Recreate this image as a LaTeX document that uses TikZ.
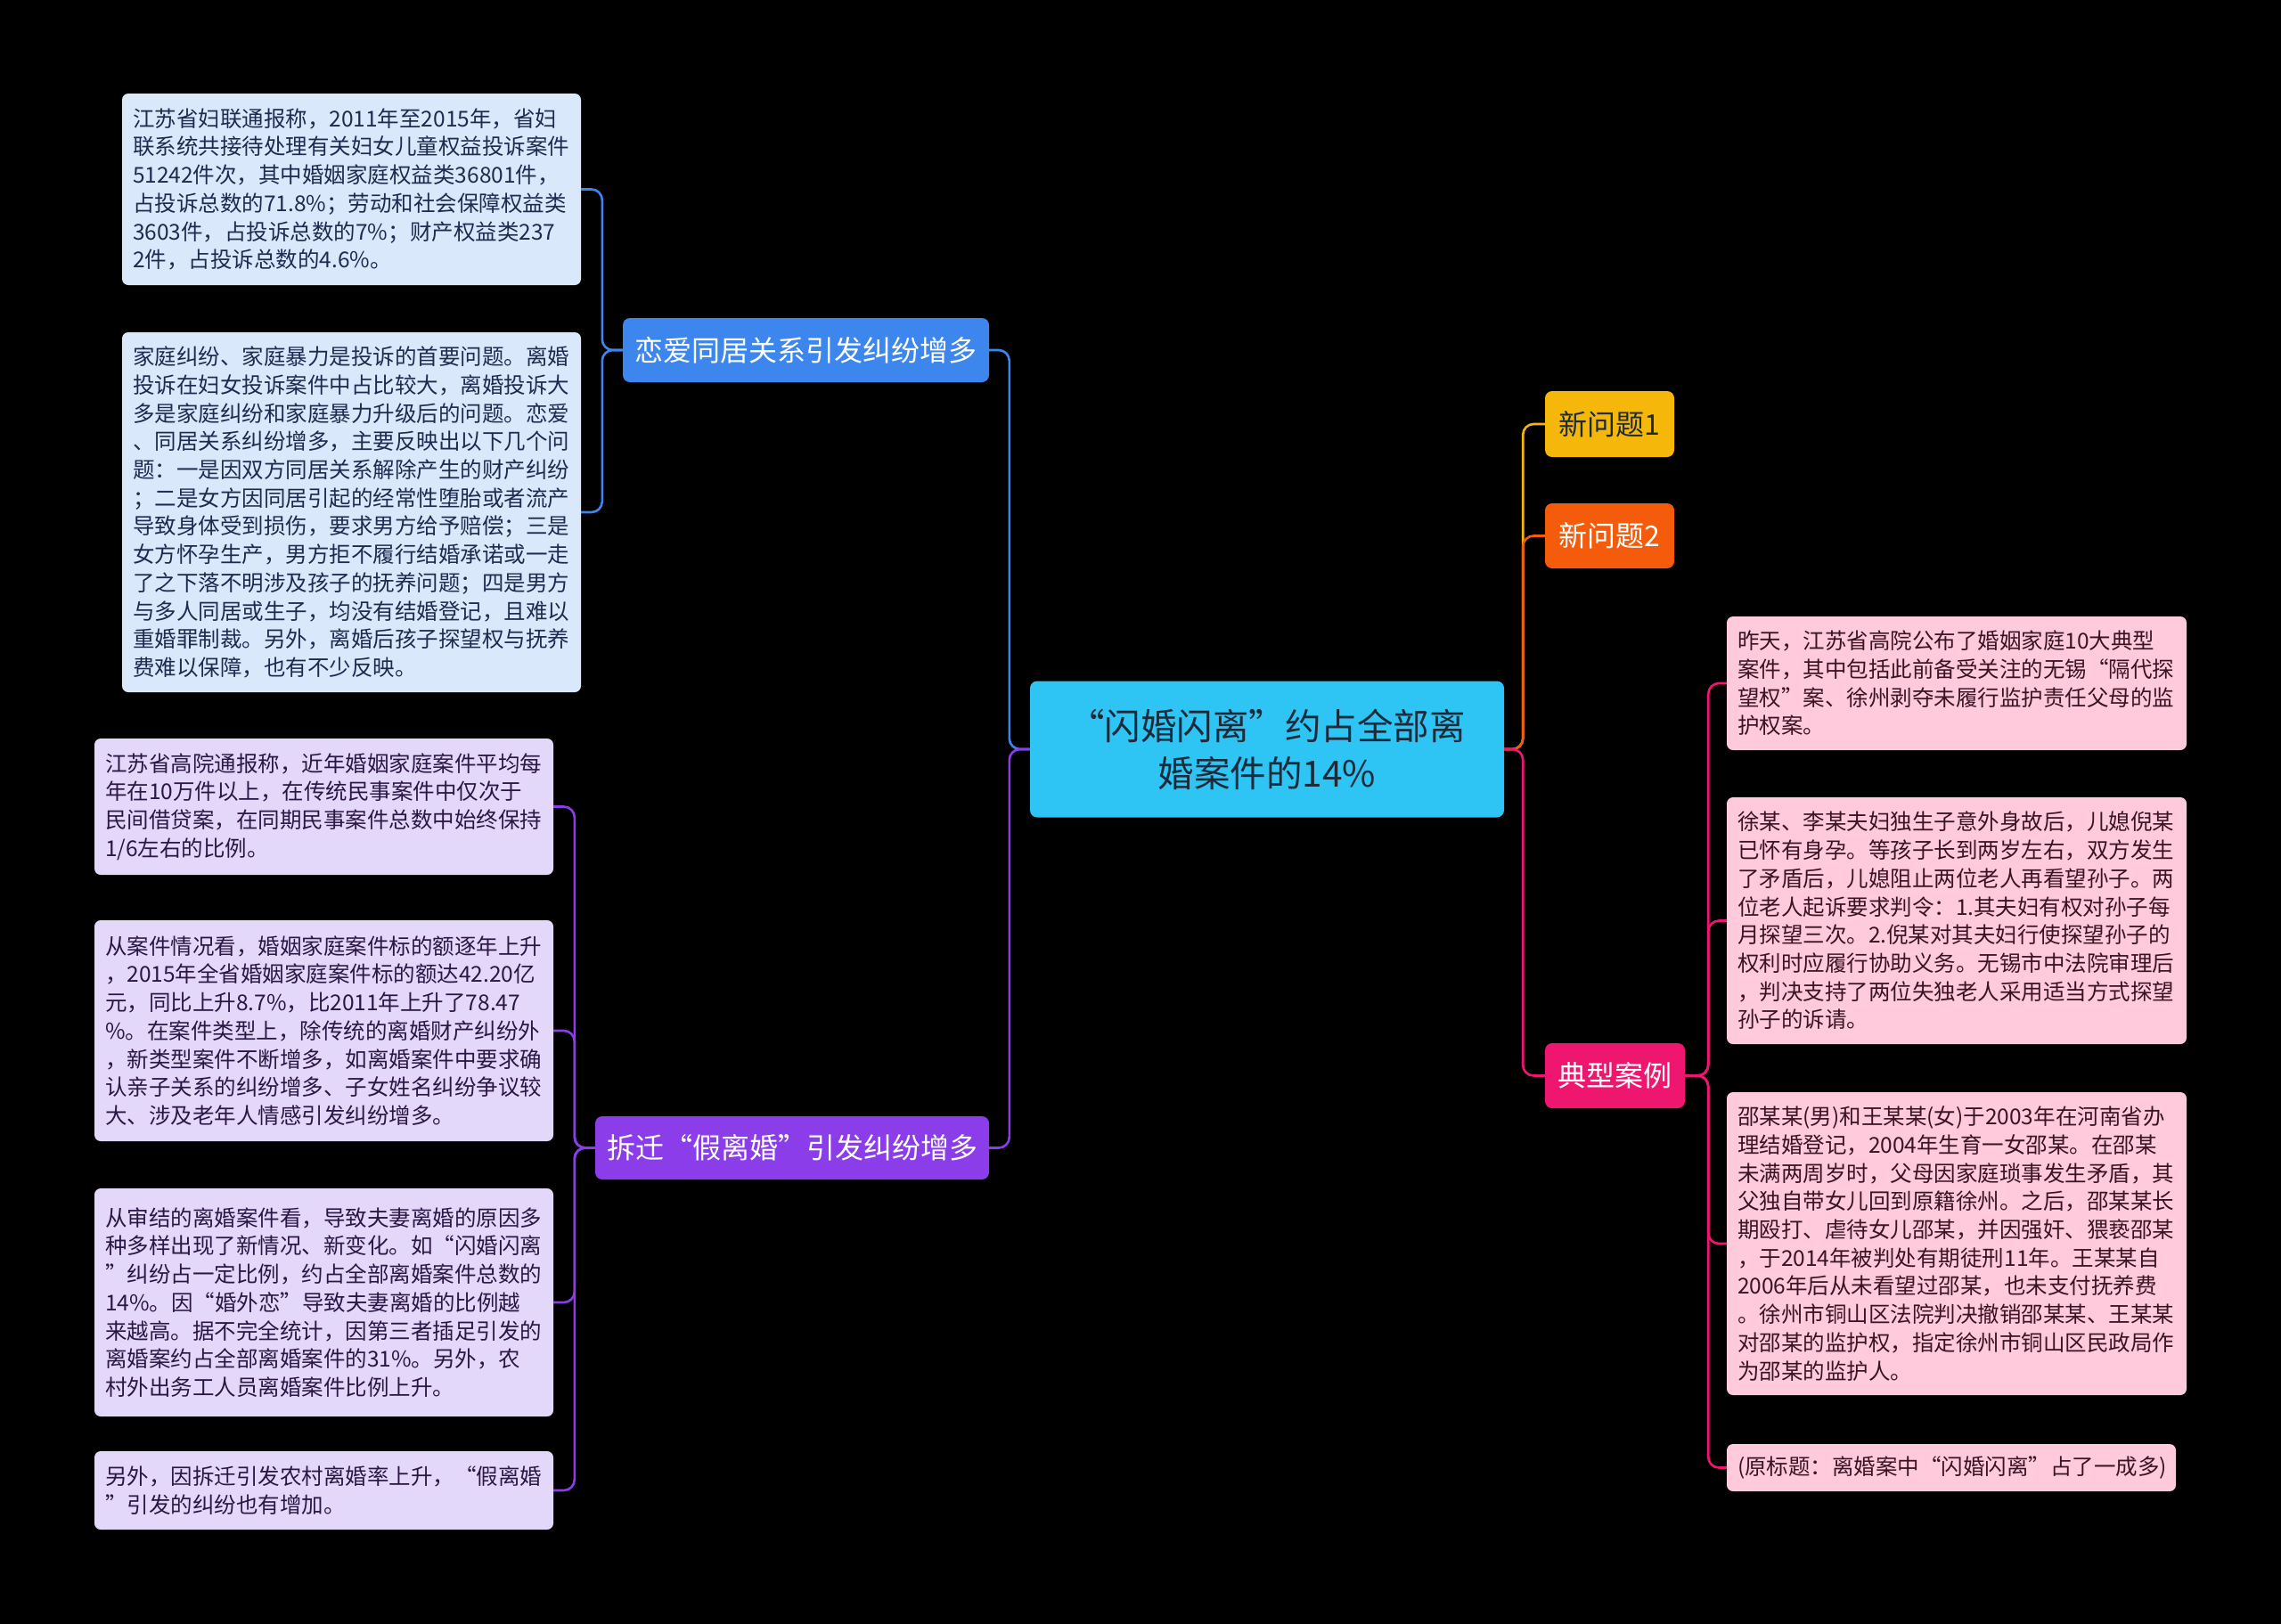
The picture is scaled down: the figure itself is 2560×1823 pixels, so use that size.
\documentclass[tikz,border=0pt]{standalone}
\usepackage{fontspec}
\setmainfont{Noto Sans CJK SC}
\begin{document}
\begin{tikzpicture}[x=1pt, y=-1pt, font=\fontsize{24.5}{31.7}\selectfont]
    % --- Colores ---
    \definecolor{fondo}{HTML}{000000}
    \definecolor{raiz}{HTML}{2EC4F4}
    \definecolor{textoraiz}{HTML}{1C2B3A}
    \definecolor{azul}{HTML}{3C86EE}
    \definecolor{morado}{HTML}{8A3DE8}
    \definecolor{amarillo}{HTML}{F5B70A}
    \definecolor{naranja}{HTML}{F45B0B}
    \definecolor{rosa}{HTML}{EF1670}
    \definecolor{hojaazul}{HTML}{DAE8FC}
    \definecolor{textoazul}{HTML}{1E2B4F}
    \definecolor{hojamorada}{HTML}{E4D8FA}
    \definecolor{textomorado}{HTML}{2B1745}
    \definecolor{hojarosa}{HTML}{FFCADC}
    \definecolor{textorosa}{HTML}{3A1424}

    % --- Estilos ---
    \tikzset{
        topic/.style={rounded corners=8pt, align=center, inner sep=0pt, font=\fontsize{32}{36}\selectfont},
        leaf/.style={rounded corners=7pt, align=left, inner xsep=12pt, inner ysep=0pt},
        link/.style={line width=2.6pt, rounded corners=12pt}
    }

    % --- Fondo ---
    \fill[fondo] (0,0) rectangle (2560,1823);
    \useasboundingbox (0,0) rectangle (2560,1823);

    % --- Tema central ---
    \node[topic, fill=raiz, text=textoraiz, minimum width=532pt, minimum height=153pt,
          font=\fontsize{40.5}{53}\selectfont] (root) at (1422,841)
        {“闪婚闪离”约占全部离\\婚案件的14\%};

    % --- Ramas ---
    \node[topic, fill=azul, text=white, minimum width=411pt, minimum height=72pt] (b1) at (904.5,393) {恋爱同居关系引发纠纷增多};
    \node[topic, fill=morado, text=white, minimum width=442pt, minimum height=71pt] (b2) at (889,1288.5) {拆迁“假离婚”引发纠纷增多};
    \node[topic, fill=amarillo, text=textoraiz, minimum width=145pt, minimum height=74pt] (n1) at (1806.5,476) {新问题1};
    \node[topic, fill=naranja, text=white, minimum width=145pt, minimum height=73pt] (n2) at (1806.5,601.5) {新问题2};
    \node[topic, fill=rosa, text=white, minimum width=157pt, minimum height=73pt] (caso) at (1812.5,1207.5) {典型案例};

    % --- Hojas: 恋爱同居 ---
    \node[leaf, fill=hojaazul, text=textoazul, text width=491pt, minimum height=215pt] (l1) at (394.5,212.5)
        {江苏省妇联通报称，2011年至2015年，省妇\\
         联系统共接待处理有关妇女儿童权益投诉案件\\
         51242件次，其中婚姻家庭权益类36801件，\\
         占投诉总数的71.8\%；劳动和社会保障权益类\\
         3603件，占投诉总数的7\%；财产权益类237\\
         2件，占投诉总数的4.6\%。};
    \node[leaf, fill=hojaazul, text=textoazul, text width=491pt, minimum height=404pt] (l2) at (394.5,575)
        {家庭纠纷、家庭暴力是投诉的首要问题。离婚\\
         投诉在妇女投诉案件中占比较大，离婚投诉大\\
         多是家庭纠纷和家庭暴力升级后的问题。恋爱\\
         、同居关系纠纷增多，主要反映出以下几个问\\
         题：一是因双方同居关系解除产生的财产纠纷\\
         ；二是女方因同居引起的经常性堕胎或者流产\\
         导致身体受到损伤，要求男方给予赔偿；三是\\
         女方怀孕生产，男方拒不履行结婚承诺或一走\\
         了之下落不明涉及孩子的抚养问题；四是男方\\
         与多人同居或生子，均没有结婚登记，且难以\\
         重婚罪制裁。另外，离婚后孩子探望权与抚养\\
         费难以保障，也有不少反映。};

    % --- Hojas: 拆迁假离婚 ---
    \node[leaf, fill=hojamorada, text=textomorado, text width=491pt, minimum height=153pt] (p1) at (363.5,905.5)
        {江苏省高院通报称，近年婚姻家庭案件平均每\\
         年在10万件以上，在传统民事案件中仅次于\\
         民间借贷案，在同期民事案件总数中始终保持\\
         1/6左右的比例。};
    \node[leaf, fill=hojamorada, text=textomorado, text width=491pt, minimum height=248pt] (p2) at (363.5,1157)
        {从案件情况看，婚姻家庭案件标的额逐年上升\\
         ，2015年全省婚姻家庭案件标的额达42.20亿\\
         元，同比上升8.7\%，比2011年上升了78.47\\
         \%。在案件类型上，除传统的离婚财产纠纷外\\
         ，新类型案件不断增多，如离婚案件中要求确\\
         认亲子关系的纠纷增多、子女姓名纠纷争议较\\
         大、涉及老年人情感引发纠纷增多。};
    \node[leaf, fill=hojamorada, text=textomorado, text width=491pt, minimum height=256pt] (p3) at (363.5,1462)
        {从审结的离婚案件看，导致夫妻离婚的原因多\\
         种多样出现了新情况、新变化。如“闪婚闪离\\
         ”纠纷占一定比例，约占全部离婚案件总数的\\
         14\%。因“婚外恋”导致夫妻离婚的比例越\\
         来越高。据不完全统计，因第三者插足引发的\\
         离婚案约占全部离婚案件的31\%。另外，农\\
         村外出务工人员离婚案件比例上升。};
    \node[leaf, fill=hojamorada, text=textomorado, text width=491pt, minimum height=88pt] (p4) at (363.5,1673)
        {另外，因拆迁引发农村离婚率上升，“假离婚\\
         ”引发的纠纷也有增加。};

    % --- Hojas: 典型案例 ---
    \node[leaf, fill=hojarosa, text=textorosa, text width=492pt, minimum height=150pt] (r1) at (2196,767)
        {昨天，江苏省高院公布了婚姻家庭10大典型\\
         案件，其中包括此前备受关注的无锡“隔代探\\
         望权”案、徐州剥夺未履行监护责任父母的监\\
         护权案。};
    \node[leaf, fill=hojarosa, text=textorosa, text width=492pt, minimum height=277pt] (r2) at (2196,1033.5)
        {徐某、李某夫妇独生子意外身故后，儿媳倪某\\
         已怀有身孕。等孩子长到两岁左右，双方发生\\
         了矛盾后，儿媳阻止两位老人再看望孙子。两\\
         位老人起诉要求判令：1.其夫妇有权对孙子每\\
         月探望三次。2.倪某对其夫妇行使探望孙子的\\
         权利时应履行协助义务。无锡市中法院审理后\\
         ，判决支持了两位失独老人采用适当方式探望\\
         孙子的诉请。};
    \node[leaf, fill=hojarosa, text=textorosa, text width=492pt, minimum height=340pt] (r3) at (2196,1396)
        {邵某某(男)和王某某(女)于2003年在河南省办\\
         理结婚登记，2004年生育一女邵某。在邵某\\
         未满两周岁时，父母因家庭琐事发生矛盾，其\\
         父独自带女儿回到原籍徐州。之后，邵某某长\\
         期殴打、虐待女儿邵某，并因强奸、猥亵邵某\\
         ，于2014年被判处有期徒刑11年。王某某自\\
         2006年后从未看望过邵某，也未支付抚养费\\
         。徐州市铜山区法院判决撤销邵某某、王某某\\
         对邵某的监护权，指定徐州市铜山区民政局作\\
         为邵某的监护人。};
    \node[leaf, fill=hojarosa, text=textorosa, text width=480pt, minimum height=53pt] (r4) at (2190,1647.5)
        {(原标题：离婚案中“闪婚闪离”占了一成多)};

    % --- Conectores ---
    \draw[link, azul] (root.west) -- ++(-23,0) |- (b1.east);
    \draw[link, morado] (root.west) -- ++(-23,0) |- (b2.east);
    \draw[link, amarillo] (root.east) -- ++(21,0) |- (n1.west);
    \draw[link, naranja] (root.east) -- ++(21,0) |- (n2.west);
    \draw[link, rosa] (root.east) -- ++(21,0) |- (caso.west);
    \foreach \h in {l1,l2} {
        \draw[link, azul] (b1.west) -- ++(-23,0) |- (\h.east);
    }
    \foreach \h in {p1,p2,p3,p4} {
        \draw[link, morado] (b2.west) -- ++(-23,0) |- (\h.east);
    }
    \foreach \h in {r1,r2,r3,r4} {
        \draw[link, rosa] (caso.east) -- ++(26,0) |- (\h.west);
    }
\end{tikzpicture}
\end{document}
